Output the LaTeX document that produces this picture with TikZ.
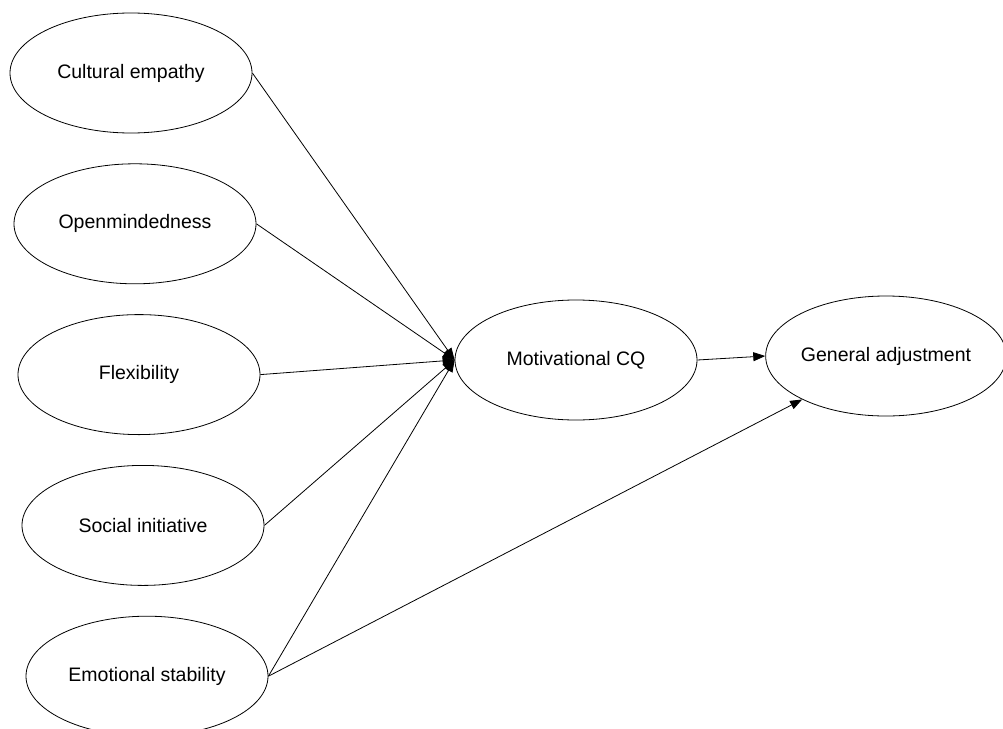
\documentclass[tikz,border=0pt]{standalone}
\usepackage{fontspec}
\setmainfont{Liberation Sans}
\usepackage{tikz}
\usetikzlibrary{shapes.geometric, arrows.meta, positioning}

\begin{document}
\begin{tikzpicture}[
  x=1pt, y=1pt,
  node distance=30pt,
  trait/.style={ellipse, draw, line width=0.8pt, minimum width=242pt, minimum height=120pt, inner sep=0pt, font=\fontsize{19.5}{23}\selectfont},
  arr/.style={-{Triangle[length=12pt, width=9pt]}, line width=0.8pt}
]
  \useasboundingbox (0,0) rectangle (1003,-728);
  % predictors
  \node[trait] (cult) at (131,-73) {Cultural empathy};
  \node[trait, below=of cult, xshift=4pt] (open) {Openmindedness};
  \node[trait, below=of open, xshift=4pt] (flex) {Flexibility};
  \node[trait, below=of flex, xshift=4pt] (soc) {Social initiative};
  \node[trait, below=of soc, xshift=4pt] (emo) {Emotional stability};
  % mediator and outcome
  \node[trait] (mot) at (576,-360) {Motivational CQ};
  \node[trait, minimum width=238pt] (gen) at (886,-356) {General adjustment};
  \foreach \src in {cult, open, flex, soc, emo}
    \draw[arr] (\src.east) -- (mot.west);
  \draw[arr] (mot.east) -- (gen.west);
  \draw[arr] (emo.east) -- (gen);
\end{tikzpicture}
\end{document}
